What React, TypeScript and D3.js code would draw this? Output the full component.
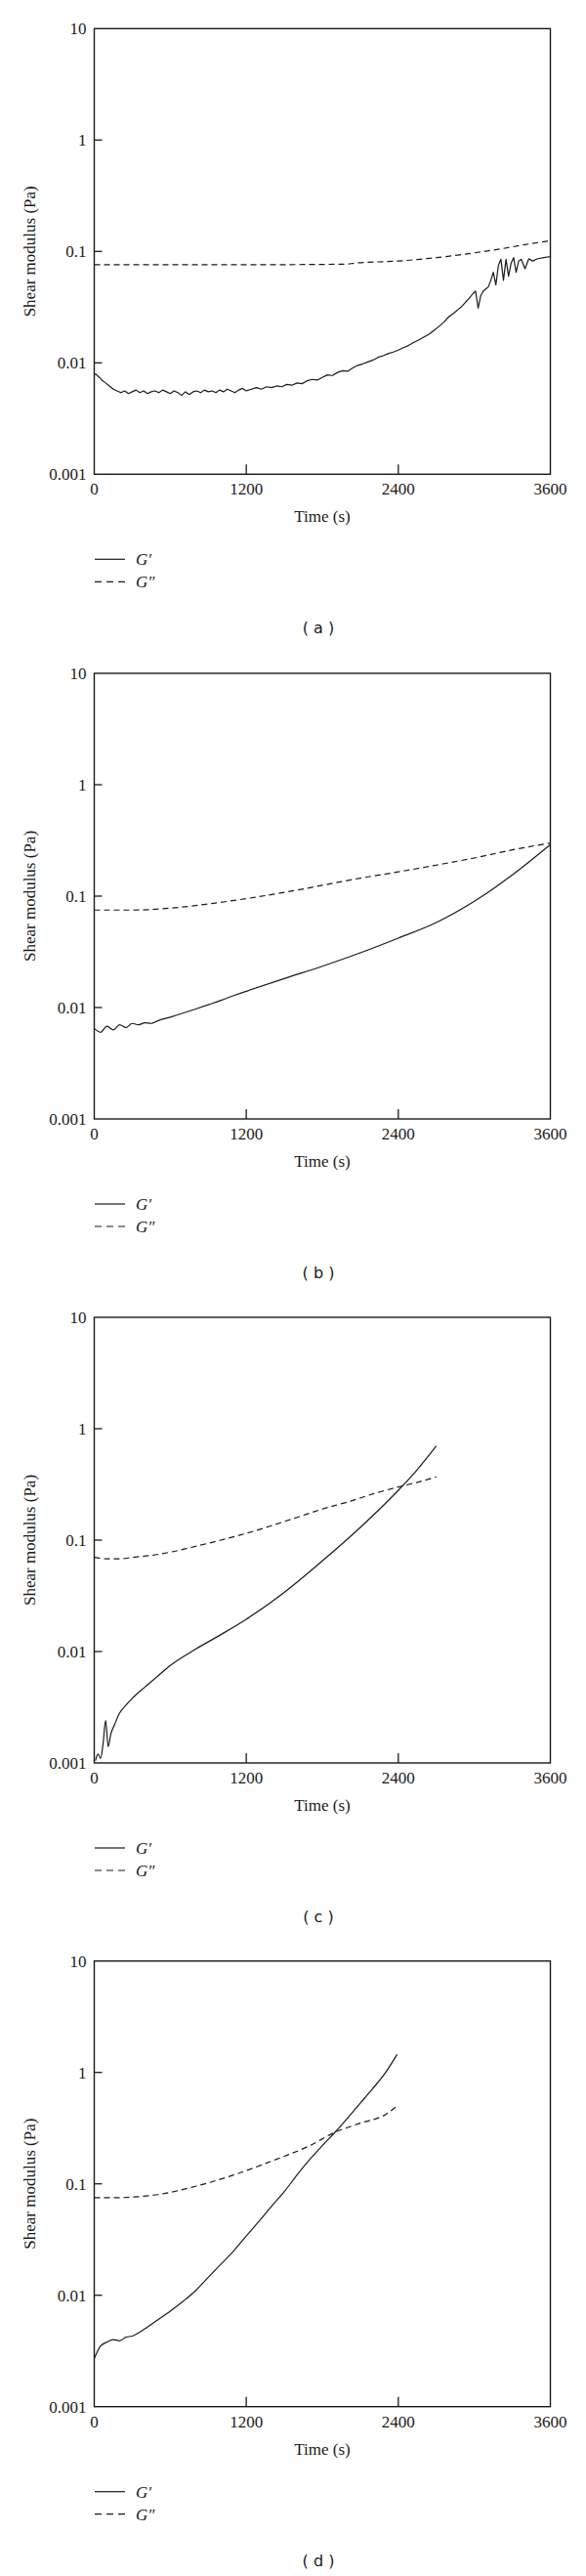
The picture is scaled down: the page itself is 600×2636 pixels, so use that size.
import React from "react";
import * as d3 from "d3";

// ---------- Data ----------
const xTicks = [0, 1200, 2400, 3600];
const yTicks = [0.001, 0.01, 0.1, 1, 10];
const yTickLabels = ["0.001", "0.01", "0.1", "1", "10"];
const panelLabels = ["( a )", "( b )", "( c )", "( d )"];
const legendNames = ["G\u2032", "G\u2033"];

// Panel (a)
const aGpT = [0, 20, 40, 60, 90, 120, 150, 180, 210, 240, 270, 300, 330, 360, 390, 420, 450, 480, 510, 540, 570, 600, 630, 660, 690, 720, 750, 780, 810, 840, 870, 900, 930, 960, 990, 1020, 1050, 1080, 1110, 1140, 1170, 1200, 1240, 1280, 1320, 1360, 1400, 1440, 1480, 1520, 1560, 1600, 1640, 1680, 1720, 1760, 1800, 1840, 1880, 1920, 1960, 2000, 2040, 2080, 2120, 2160, 2200, 2240, 2280, 2320, 2360, 2400, 2440, 2480, 2520, 2560, 2600, 2640, 2680, 2720, 2760, 2800, 2840, 2870, 2900, 2930, 2960, 2990, 3010, 3030, 3050, 3070, 3090, 3110, 3130, 3150, 3170, 3190, 3210, 3230, 3250, 3270, 3290, 3310, 3330, 3350, 3370, 3400, 3430, 3460, 3500, 3550, 3600];
const aGpV = [0.008, 0.0078, 0.0074, 0.007, 0.0066, 0.0062, 0.0058, 0.0056, 0.0054, 0.0056, 0.0053, 0.0055, 0.0057, 0.0054, 0.0056, 0.0053, 0.0055, 0.0056, 0.0054, 0.0057, 0.0055, 0.0053, 0.0056, 0.0054, 0.0051, 0.0055, 0.0052, 0.0055, 0.0056, 0.0054, 0.0057, 0.0055, 0.0056, 0.0054, 0.0057, 0.0055, 0.0058, 0.0056, 0.0054, 0.0057, 0.0059, 0.0056, 0.0058, 0.006, 0.0058, 0.0061, 0.006, 0.0062, 0.0061, 0.0064, 0.0063, 0.0066, 0.0065, 0.0069, 0.0071, 0.007, 0.0074, 0.0078, 0.0077, 0.0082, 0.0085, 0.0084, 0.009, 0.0095, 0.0098, 0.0102, 0.0106, 0.0112, 0.0116, 0.0121, 0.0125, 0.013, 0.0137, 0.0143, 0.0152, 0.016, 0.017, 0.018, 0.0195, 0.0212, 0.0232, 0.026, 0.028, 0.03, 0.032, 0.035, 0.038, 0.042, 0.044, 0.031, 0.04, 0.044, 0.046, 0.048, 0.055, 0.065, 0.05, 0.075, 0.085, 0.055, 0.085, 0.06, 0.078, 0.088, 0.065, 0.082, 0.085, 0.07, 0.086, 0.082, 0.086, 0.088, 0.09];
const aGppT = [0, 600, 1200, 1800, 2000, 2050, 2400, 2700, 3000, 3200, 3400, 3500, 3600];
const aGppV = [0.076, 0.076, 0.076, 0.0765, 0.077, 0.0785, 0.082, 0.088, 0.097, 0.105, 0.115, 0.12, 0.125];

// Panel (b)
const bGpT = [0, 50, 100, 150, 200, 250, 300, 350, 400, 450, 500, 600, 700, 800, 900, 1000, 1100, 1200, 1500, 1800, 2100, 2400, 2700, 3000, 3300, 3600];
const bGpV = [0.0065, 0.006, 0.0068, 0.0063, 0.007, 0.0066, 0.0072, 0.007, 0.0073, 0.0072, 0.0076, 0.0082, 0.0089, 0.0097, 0.0106, 0.0116, 0.0128, 0.014, 0.0182, 0.0235, 0.031, 0.042, 0.058, 0.09, 0.155, 0.29];
const bGppT = [0, 300, 600, 900, 1200, 1500, 1800, 2100, 2400, 2700, 3000, 3300, 3600];
const bGppV = [0.075, 0.075, 0.078, 0.085, 0.095, 0.108, 0.125, 0.145, 0.165, 0.19, 0.22, 0.26, 0.3];

// Panel (c)
const cGpT = [10, 30, 50, 70, 90, 110, 130, 160, 200, 250, 300, 400, 500, 600, 800, 1000, 1200, 1500, 1800, 2100, 2400, 2550, 2700];
const cGpV = [0.00105, 0.0012, 0.0011, 0.0015, 0.0024, 0.0014, 0.0018, 0.0022, 0.0028, 0.0033, 0.0038, 0.0048, 0.006, 0.0075, 0.0105, 0.0142, 0.0195, 0.034, 0.065, 0.13, 0.28, 0.43, 0.7];
const cGppT = [0, 100, 200, 300, 450, 600, 800, 1000, 1200, 1400, 1600, 1800, 2000, 2200, 2400, 2550, 2700];
const cGppV = [0.07, 0.068, 0.068, 0.07, 0.073, 0.078, 0.088, 0.1, 0.115, 0.135, 0.16, 0.19, 0.22, 0.26, 0.3, 0.33, 0.37];

// Panel (d)
const dGpT = [0, 50, 100, 150, 200, 250, 300, 400, 500, 600, 700, 800, 900, 1000, 1100, 1200, 1300, 1400, 1500, 1600, 1700, 1800, 1900, 2000, 2100, 2200, 2300, 2390];
const dGpV = [0.0027, 0.0035, 0.0038, 0.004, 0.0039, 0.0042, 0.0043, 0.005, 0.006, 0.0072, 0.0088, 0.011, 0.0145, 0.019, 0.025, 0.034, 0.046, 0.063, 0.085, 0.12, 0.165, 0.22, 0.29, 0.39, 0.53, 0.72, 1.0, 1.45];
const dGppT = [0, 150, 300, 500, 800, 1100, 1400, 1700, 1900, 2100, 2300, 2390];
const dGppV = [0.075, 0.075, 0.076, 0.08, 0.095, 0.12, 0.16, 0.22, 0.29, 0.35, 0.42, 0.5];

const panels = [
  { gp: [aGpT, aGpV], gpp: [aGppT, aGppV] },
  { gp: [bGpT, bGpV], gpp: [bGppT, bGppV] },
  { gp: [cGpT, cGpV], gpp: [cGppT, cGppV] },
  { gp: [dGpT, dGpV], gpp: [dGppT, dGppV] },
];

// ---------- Layout ----------
const W = 600;
const H = 2636;
const LEFT = 96.5;
const RIGHT = 563.5;
const PLOT_H = 456;
const PANEL_TOPS = [29.3, 689, 1348, 2006.7];
const SERIF = "'Liberation Serif', 'Times New Roman', serif";
const SANS = "'DejaVu Sans', sans-serif";
const INK = "#1a1a1a";

function Panel({ idx, top }: { idx: number; top: number }) {
  const bottom = top + PLOT_H;
  const x = d3.scaleLinear().domain([0, 3600]).range([LEFT, RIGHT]);
  const y = d3.scaleLog().domain([0.001, 10]).range([bottom, top]);
  const line = d3
    .line<[number, number]>()
    .x((d) => x(d[0]))
    .y((d) => y(d[1]))
    .curve(d3.curveMonotoneX);
  const rough = d3
    .line<[number, number]>()
    .x((d) => x(d[0]))
    .y((d) => y(d[1]));
  const p = panels[idx];
  const gpPts = p.gp[0].map((t, i) => [t, p.gp[1][i]] as [number, number]);
  const gppPts = p.gpp[0].map((t, i) => [t, p.gpp[1][i]] as [number, number]);
  const legY1 = bottom + 87;
  const legY2 = bottom + 110;
  const gpLine = idx === 0 ? rough : line;
  return (
    <g>
      <path d={line(gppPts) || ""} fill="none" stroke={INK} strokeWidth={1.2} strokeDasharray="6,4" />
      <path d={gpLine(gpPts) || ""} fill="none" stroke={INK} strokeWidth={1.2} strokeLinejoin="round" />
      <rect x={LEFT} y={top} width={RIGHT - LEFT} height={PLOT_H} fill="none" stroke={INK} strokeWidth={1.4} />
      {yTicks.slice(1, 4).map((v) => (
        <line key={"yt" + v} x1={LEFT} x2={LEFT + 8} y1={y(v)} y2={y(v)} stroke={INK} strokeWidth={1.3} />
      ))}
      {xTicks.slice(1, 3).map((v) => (
        <line key={"xt" + v} x1={x(v)} x2={x(v)} y1={bottom} y2={bottom - 10} stroke={INK} strokeWidth={1.3} />
      ))}
      {yTicks.map((v, i) => (
        <text key={"yl" + v} x={LEFT - 8} y={y(v) + 6} textAnchor="end" fontFamily={SERIF} fontSize={17} fill={INK}>
          {yTickLabels[i]}
        </text>
      ))}
      {xTicks.map((v) => (
        <text key={"xl" + v} x={x(v)} y={bottom + 21} textAnchor="middle" fontFamily={SERIF} fontSize={17} fill={INK}>
          {v}
        </text>
      ))}
      <text x={(LEFT + RIGHT) / 2} y={bottom + 49} textAnchor="middle" fontFamily={SERIF} fontSize={17} fill={INK}>
        Time (s)
      </text>
      <text
        transform={`translate(36, ${top + PLOT_H / 2}) rotate(-90)`}
        textAnchor="middle"
        fontFamily={SERIF}
        fontSize={17}
        fill={INK}
      >
        Shear modulus (Pa)
      </text>
      <line x1={97} x2={128} y1={legY1} y2={legY1} stroke={INK} strokeWidth={1.2} />
      <line x1={97} x2={128} y1={legY2} y2={legY2} stroke={INK} strokeWidth={1.2} strokeDasharray="7,5" />
      <text x={139} y={legY1 + 6} fontFamily={SERIF} fontStyle="italic" fontSize={17} fill={INK}>
        {legendNames[0]}
      </text>
      <text x={139} y={legY2 + 6} fontFamily={SERIF} fontStyle="italic" fontSize={17} fill={INK}>
        {legendNames[1]}
      </text>
      <text x={326} y={bottom + 163} textAnchor="middle" fontFamily={SANS} fontSize={16} fill={INK}>
        {panelLabels[idx]}
      </text>
    </g>
  );
}

export default function App() {
  return (
    <div style={{ position: "absolute", left: 0, top: 0, width: W, height: H, background: "#fff" }}>
      <svg width={W} height={H} viewBox={`0 0 ${W} ${H}`} style={{ display: "block" }}>
        <rect width={W} height={H} fill="#fff" />
        {PANEL_TOPS.map((t, i) => (
          <Panel key={i} idx={i} top={t} />
        ))}
      </svg>
    </div>
  );
}
